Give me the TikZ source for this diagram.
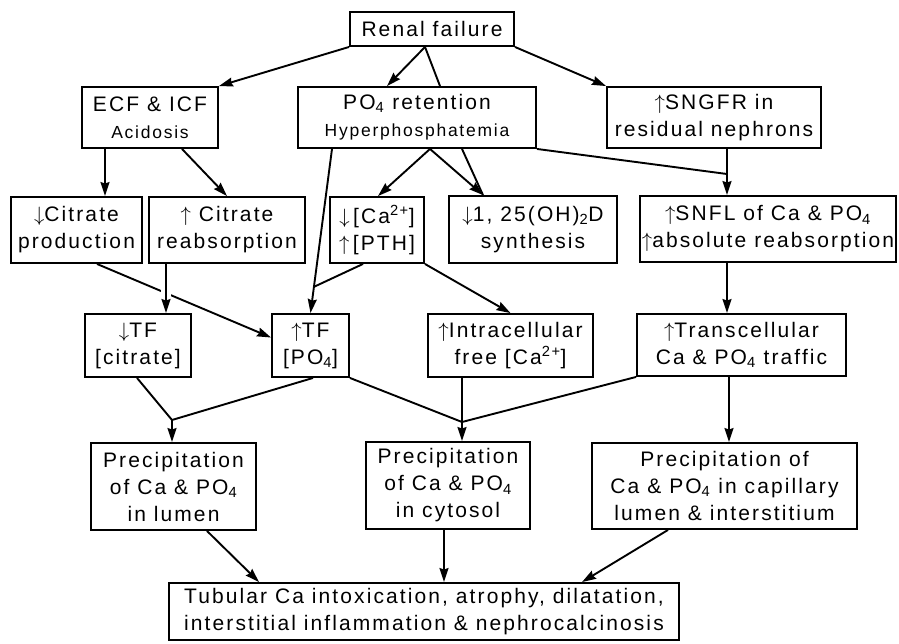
\documentclass[tikz,border=0pt]{standalone}
\usepackage{fontspec}
\setmainfont{Liberation Sans}[LetterSpace=10]
\usetikzlibrary{arrows.meta}
\newcommand{\myup}{\ensuremath{\uparrow}}
\newcommand{\mydn}{\ensuremath{\downarrow}}
\newcommand{\fs}{\fontsize{17.5}{21}\selectfont}
\tikzset{
  box/.style={draw, line width=1.9pt, rectangle, inner sep=0pt, align=center,
    font=\fontsize{21}{27}\selectfont},
  conn/.style={line width=1.9pt},
  arr/.style={conn, -{Stealth[length=14pt,width=9pt,inset=1.5pt]}},
}
\begin{document}
\begin{tikzpicture}[x=1pt,y=-1pt]
\useasboundingbox (0,0) rectangle (899,643);
% row 1
\node[box, minimum width=164pt, minimum height=34pt] (rf) at (432,29) {Renal failure};
% row 2
\node[box, minimum width=136pt, minimum height=61pt] (ecf) at (150,117.5) {ECF \& ICF\\{\fs Acidosis}};
\node[box, minimum width=238pt, minimum height=61pt] (po4) at (417,117.5) {PO\textsubscript{4} retention\\{\fs Hyperphosphatemia}};
\node[box, minimum width=214pt, minimum height=61pt] (sngfr) at (714,117.5) {\myup SNGFR in\\residual nephrons};
% row 3
\node[box, minimum width=131pt, minimum height=66pt] (citp) at (76.5,230) {\mydn Citrate\\production};
\node[box, minimum width=156pt, minimum height=66pt] (citr) at (227,230) {\myup\ Citrate\\reabsorption};
\node[box, minimum width=94pt, minimum height=66pt] (ca) at (377,230) {\mydn\,[Ca\textsuperscript{2+}]\\\myup\,[PTH]};
\node[box, minimum width=168pt, minimum height=67pt] (vitd) at (533,229.5) {\mydn 1, 25(OH)\textsubscript{2}D\\synthesis};
\node[box, minimum width=256pt, minimum height=66pt] (snfl) at (768,229) {\myup SNFL of Ca \& PO\textsubscript{4}\\\myup absolute reabsorption};
% row 4
\node[box, minimum width=106pt, minimum height=63pt] (tfc) at (138,345.5) {\mydn TF\\{[citrate]}};
\node[box, minimum width=77pt, minimum height=63pt] (tfp) at (310.5,345.5) {\myup TF\\{[PO\textsubscript{4}]}};
\node[box, minimum width=165pt, minimum height=63pt] (icf) at (510.5,345.5) {\myup Intracellular\\free [Ca\textsuperscript{2+}]};
\node[box, minimum width=209pt, minimum height=62pt] (trans) at (741.5,345) {\myup Transcellular\\Ca \& PO\textsubscript{4} traffic};
% row 5
\node[box, minimum width=165pt, minimum height=87pt] (plum) at (173.5,486.5) {Precipitation\\of Ca \& PO\textsubscript{4}\\in lumen};
\node[box, minimum width=164pt, minimum height=87pt] (pcyt) at (448,485.5) {Precipitation\\of Ca \& PO\textsubscript{4}\\in cytosol};
\node[box, minimum width=265pt, minimum height=86pt] (pcap) at (724.5,486) {Precipitation of\\Ca \& PO\textsubscript{4} in capillary\\lumen \& interstitium};
% row 6
\node[box, minimum width=510pt, minimum height=57pt] (bot) at (424,611.5) {Tubular Ca intoxication, atrophy, dilatation,\\interstitial inflammation \& nephrocalcinosis};
% junctions
\coordinate (j1) at (727,174);
\coordinate (j2) at (313.6,287);
\coordinate (j3) at (172,420);
\coordinate (j4) at (462,422);
% connectors from renal failure
\draw[arr] (rf.south west) -- (ecf.north east);
\draw[arr] ([xshift=-7pt]rf.south) -- ([xshift=-30pt]po4.north);
\draw[conn] ([xshift=-7pt]rf.south) -- ([xshift=23pt]po4.north);
\draw[arr] (rf.south east) -- (sngfr.north west);
% from ECF
\draw[arr] ([xshift=-45pt]ecf.south) -- ([xshift=-45pt]ecf.south |- citp.north);
\draw[arr] ([xshift=32pt]ecf.south) -- (citr.north);
% from PO4
\draw[arr] ([xshift=13pt]po4.south) -- ([xshift=1pt]ca.north);
\draw[conn] ([xshift=45pt]po4.south) -- ([xshift=-50pt]vitd.north);
\draw[arr] ([xshift=13pt]po4.south) -- ([xshift=-50pt]vitd.north);
\draw[conn] (po4.south east) -- (j1);
\draw[arr] ([xshift=13pt]sngfr.south) -- ([xshift=13pt]sngfr.south |- snfl.north);
\draw[arr] ([xshift=-85pt]po4.south) -- (tfp.north);
\draw[conn] ([xshift=-14pt]ca.south) -- (j2);
\draw[arr] (ca.south east) -- (icf.north);
% citrate
\draw[arr] ([xshift=20.5pt]citp.south) -- ([yshift=8pt]tfp.west);
\fill[white] (161,283) rectangle (171,302);
\draw[arr] ([xshift=-61pt]citr.south) -- ([xshift=-61pt]citr.south |- tfc.north);
% row 4 to row 5
\draw[conn] ([xshift=-1pt]tfc.south) -- (j3);
\draw[conn] ([xshift=2.5pt]tfp.south) -- (j3);
\draw[arr] (j3) -- (j3 |- plum.north);
\draw[conn] (tfp.south east) -- (j4);
\draw[conn] (trans.south west) -- (j4);
\draw[arr] ([xshift=-48.5pt]icf.south) -- ([xshift=-48.5pt]icf.south |- pcyt.north);
\draw[arr] ([xshift=-41pt]snfl.south) -- ([xshift=-41pt]snfl.south |- trans.north);
\draw[arr] ([xshift=-12.5pt]trans.south) -- ([xshift=-12.5pt]trans.south |- pcap.north);
% to bottom
\draw[arr] ([xshift=33.5pt]plum.south) -- ([xshift=-165pt]bot.north);
\draw[arr] ([xshift=-4pt]pcyt.south) -- ([xshift=-4pt]pcyt.south |- bot.north);
\draw[arr] ([xshift=-56.5pt]pcap.south) -- ([xshift=158pt]bot.north);
\end{tikzpicture}
\end{document}
